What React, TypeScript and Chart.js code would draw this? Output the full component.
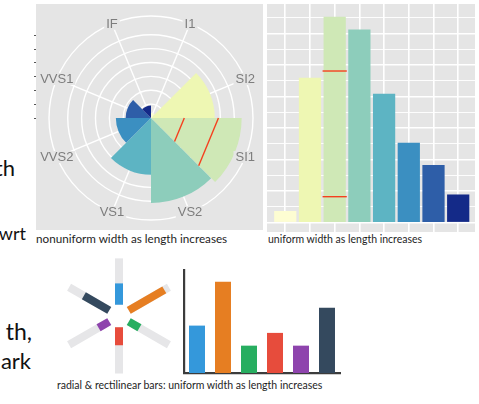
import React, { useEffect, useRef } from 'react';
import { Chart, registerables } from 'chart.js';
Chart.register(...registerables);

// ---------- data ----------
const clarityLevels = ['I1', 'SI2', 'SI1', 'VS2', 'VS1', 'VVS2', 'VVS1', 'IF'];
const clarityCounts = [741, 9194, 13065, 12258, 8171, 5066, 3655, 1790];
const clarityColors = ['#fdfdd2', '#eef7b3', '#cfe8b6', '#8dcdbb', '#5db4c3', '#3b8fc1', '#2e5ea8', '#142a88'];
const polarGridValues = [0, 2000, 4000, 6000, 8000, 10000, 12000];
const polarOuterValue = 14700;
const polarChordValues = [4800, 9720];
const barMarkValues = [1650, 9620];
const markedLevel = 'SI1';
const barGridValues = [0, 1000, 2000, 3000, 4000, 5000, 6000, 7000, 8000, 9000, 10000, 11000, 12000, 13000];
const barYRange = [-590, 13870];
const barXRange = [-0.74, 7.68];

const flatCategories = ['blue', 'orange', 'green', 'red', 'purple', 'navy'];
const flatValues = [5.2, 10, 3, 4.4, 3, 7.15];
const flatColors = ['#3498db', '#e67e22', '#27ae60', '#e74c3c', '#8e44ad', '#34495e'];
const radialInner = 2.75;
const radialTrack = 11.3;
const radialExtent = 14.63;
const flatMax = 11.3;

const captions = [
  { text: 'nonuniform width as length increases', left: 36, baseline: 243, size: 11.7 },
  { text: 'uniform width as length increases', left: 268, baseline: 243, size: 10.5 },
  { text: 'radial & rectilinear bars: uniform width as length increases', left: 57, baseline: 389, size: 10.5 },
];
const slideFragments = [
  { text: 'th', right: 15, baseline: 177, size: 22 },
  { text: 'wrt', right: 26, baseline: 240, size: 18 },
  { text: 'th,', right: 32, baseline: 340, size: 23 },
  { text: 'ark', right: 31, baseline: 370, size: 22 },
];

// ---------- styles ----------
const PANEL = '#e5e5e5';
const RED = '#f5401e';
const TRACK = '#e6e6e8';
const AXIS = '#3c3c3c';
const LABEL_FONT = "13px 'Liberation Sans', Arial, sans-serif";

function panelBg(offsetX: number) {
  return {
    id: 'panelBg',
    beforeDraw(c: any) {
      const { ctx, width, height } = c;
      ctx.save();
      ctx.fillStyle = PANEL;
      ctx.fillRect(offsetX, 0, width - offsetX, height);
      ctx.restore();
    },
  };
}

function polarConfig(): any {
  const decor = {
    id: 'polarDecor',
    beforeDatasetsDraw(c: any) {
      const s = c.scales.r;
      const ctx = c.ctx;
      const arcs = c.getDatasetMeta(0).data;
      ctx.save();
      ctx.strokeStyle = '#ffffff';
      ctx.lineWidth = 1.4;
      arcs.forEach((a: any) => {
        const m = (a.startAngle + a.endAngle) / 2;
        ctx.beginPath();
        ctx.moveTo(s.xCenter, s.yCenter);
        ctx.lineTo(s.xCenter + s.drawingArea * Math.cos(m), s.yCenter + s.drawingArea * Math.sin(m));
        ctx.stroke();
      });
      ctx.strokeStyle = '#555';
      ctx.lineWidth = 1;
      polarGridValues.forEach((v) => {
        const y = Math.round(s.yCenter - s.getDistanceFromCenterForValue(v)) + 0.5;
        ctx.beginPath();
        ctx.moveTo(1, y);
        ctx.lineTo(3, y);
        ctx.stroke();
      });
      ctx.restore();
    },
    afterDatasetsDraw(c: any) {
      const s = c.scales.r;
      const ctx = c.ctx;
      const arcs = c.getDatasetMeta(0).data;
      const marked = arcs[clarityLevels.indexOf(markedLevel)];
      ctx.save();
      ctx.strokeStyle = RED;
      ctx.lineWidth = 1.4;
      polarChordValues.forEach((v) => {
        const d = s.getDistanceFromCenterForValue(v);
        ctx.beginPath();
        ctx.moveTo(s.xCenter + d * Math.cos(marked.startAngle), s.yCenter + d * Math.sin(marked.startAngle));
        ctx.lineTo(s.xCenter + d * Math.cos(marked.endAngle), s.yCenter + d * Math.sin(marked.endAngle));
        ctx.stroke();
      });
      ctx.font = LABEL_FONT;
      ctx.textAlign = 'center';
      ctx.textBaseline = 'middle';
      arcs.forEach((a: any, i: number) => {
        const m = (a.startAngle + a.endAngle) / 2;
        const x = s.xCenter + s.drawingArea * Math.cos(m);
        const y = s.yCenter + s.drawingArea * Math.sin(m);
        const label = clarityLevels[i];
        const w = ctx.measureText(label).width;
        ctx.fillStyle = PANEL;
        ctx.fillRect(x - w / 2 - 2, y - 6, w + 4, 12);
        ctx.fillStyle = '#7d7d7d';
        ctx.fillText(label, x, y + 0.5);
      });
      ctx.restore();
    },
  };
  return {
    type: 'polarArea',
    data: {
      labels: clarityLevels,
      datasets: [{ data: clarityCounts, backgroundColor: clarityColors, borderWidth: 0 }],
    },
    options: {
      animation: false,
      responsive: false,
      layout: { padding: { left: 16, right: 10, top: 12, bottom: 10 } },
      plugins: { legend: { display: false }, tooltip: { enabled: false } },
      scales: {
        r: {
          min: 0,
          max: polarOuterValue,
          ticks: { display: false },
          pointLabels: { display: false },
          angleLines: { display: false },
          grid: { color: '#ffffff', lineWidth: 1.4, circular: true },
          afterBuildTicks: (sc: any) => {
            sc.ticks = [...polarGridValues, polarOuterValue].map((value) => ({ value }));
          },
        },
      },
    },
    plugins: [panelBg(3), decor],
  };
}

function clarityBarConfig(): any {
  const marks = {
    id: 'barMarks',
    afterDatasetsDraw(c: any) {
      const bar = c.getDatasetMeta(0).data[clarityLevels.indexOf(markedLevel)];
      const ys = c.scales.y;
      const ctx = c.ctx;
      ctx.save();
      ctx.strokeStyle = RED;
      ctx.lineWidth = 1.4;
      barMarkValues.forEach((v) => {
        const py = ys.getPixelForValue(v);
        ctx.beginPath();
        ctx.moveTo(bar.x - bar.width / 2 - 1, py);
        ctx.lineTo(bar.x + bar.width / 2 + 1, py);
        ctx.stroke();
      });
      ctx.restore();
    },
  };
  return {
    type: 'bar',
    data: {
      datasets: [
        {
          data: clarityCounts.map((y, x) => ({ x, y })),
          backgroundColor: clarityColors,
          borderWidth: 0,
          barPercentage: 0.9,
          categoryPercentage: 1,
        },
      ],
    },
    options: {
      animation: false,
      responsive: false,
      layout: { padding: 0 },
      plugins: { legend: { display: false }, tooltip: { enabled: false } },
      scales: {
        x: {
          type: 'linear',
          offset: false,
          min: barXRange[0],
          max: barXRange[1],
          afterBuildTicks: (sc: any) => {
            sc.ticks = clarityLevels.map((_, i) => ({ value: i }));
          },
          ticks: { display: false },
          grid: { color: '#ffffff', lineWidth: 1.6, drawTicks: false, offset: false },
          border: { display: false },
        },
        y: {
          min: barYRange[0],
          max: barYRange[1],
          afterBuildTicks: (sc: any) => {
            sc.ticks = barGridValues.map((value) => ({ value }));
          },
          ticks: { display: false },
          grid: {
            color: '#ffffff',
            lineWidth: (ctx: any) => (ctx.tick && ctx.tick.value % 2000 === 0 ? 1.6 : 0.9),
            drawTicks: false,
          },
          border: { display: false },
        },
      },
    },
    plugins: [panelBg(0), marks],
  };
}

function radialConfig(): any {
  const n = flatValues.length;
  const pt = (i: number, r: number) => {
    const a = (i * 2 * Math.PI) / n;
    return { x: r * Math.sin(a), y: r * Math.cos(a) };
  };
  const bars = flatValues.map((v, i) => ({
    data: [pt(i, radialInner), pt(i, radialInner + v)],
    borderColor: flatColors[i],
  }));
  const tracks = flatValues.map((_, i) => ({
    data: [pt(i, radialInner), pt(i, radialInner + radialTrack)],
    borderColor: TRACK,
  }));
  return {
    type: 'scatter',
    data: {
      datasets: [...bars, ...tracks].map((d) => ({
        ...d,
        showLine: true,
        borderWidth: 8,
        borderCapStyle: 'butt',
        pointRadius: 0,
        fill: false,
      })),
    },
    options: {
      animation: false,
      responsive: false,
      layout: { padding: 0 },
      plugins: { legend: { display: false }, tooltip: { enabled: false } },
      scales: {
        x: { type: 'linear', min: -radialExtent, max: radialExtent, display: false },
        y: { type: 'linear', min: -radialExtent, max: radialExtent, display: false },
      },
    },
  };
}

function flatBarConfig(): any {
  return {
    type: 'bar',
    data: {
      labels: flatCategories,
      datasets: [
        {
          data: flatValues,
          backgroundColor: flatColors,
          borderWidth: 0,
          barPercentage: 0.615,
          categoryPercentage: 1,
        },
      ],
    },
    options: {
      animation: false,
      responsive: false,
      layout: { padding: { left: 4, right: 4, top: 4, bottom: 3 } },
      plugins: { legend: { display: false }, tooltip: { enabled: false } },
      scales: {
        x: {
          ticks: { display: false },
          grid: { display: false, drawTicks: false },
          border: { display: true, color: AXIS, width: 2.2 },
        },
        y: {
          min: 0,
          max: flatMax,
          ticks: { display: false },
          grid: { display: false, drawTicks: false },
          border: { display: true, color: AXIS, width: 2.2 },
        },
      },
    },
  };
}

function ChartCanvas({ left, top, width, height, make }: any) {
  const ref = useRef<HTMLCanvasElement | null>(null);
  useEffect(() => {
    if (!ref.current) return;
    const chart = new Chart(ref.current, make());
    return () => chart.destroy();
  }, []);
  return (
    <canvas
      ref={ref}
      width={width}
      height={height}
      style={{ position: 'absolute', left, top, width, height }}
    />
  );
}

export default function App() {
  return (
    <div
      style={{
        position: 'fixed',
        left: 0,
        top: 0,
        width: 479,
        height: 404,
        background: '#ffffff',
        overflow: 'hidden',
      }}
    >
      {slideFragments.map((f) => (
        <div
          key={f.text + f.baseline}
          style={{
            position: 'absolute',
            right: 479 - f.right,
            top: f.baseline - 0.887 * f.size,
            fontFamily: 'Lato, sans-serif',
            fontSize: f.size,
            lineHeight: `${f.size}px`,
            color: '#111',
            whiteSpace: 'nowrap',
          }}
        >
          {f.text}
        </div>
      ))}
      <ChartCanvas left={33} top={4} width={230} height={226} make={polarConfig} />
      <ChartCanvas left={267} top={4} width={208} height={228} make={clarityBarConfig} />
      <ChartCanvas left={59} top={256} width={120} height={120} make={radialConfig} />
      <ChartCanvas left={180} top={266} width={164} height={110} make={flatBarConfig} />
      {captions.map((c) => (
        <div
          key={c.text}
          style={{
            position: 'absolute',
            left: c.left,
            top: c.baseline - 0.887 * c.size,
            fontFamily: 'Lato, sans-serif',
            fontSize: c.size,
            lineHeight: `${c.size}px`,
            color: '#1e1e1e',
            whiteSpace: 'nowrap',
          }}
        >
          {c.text}
        </div>
      ))}
    </div>
  );
}
